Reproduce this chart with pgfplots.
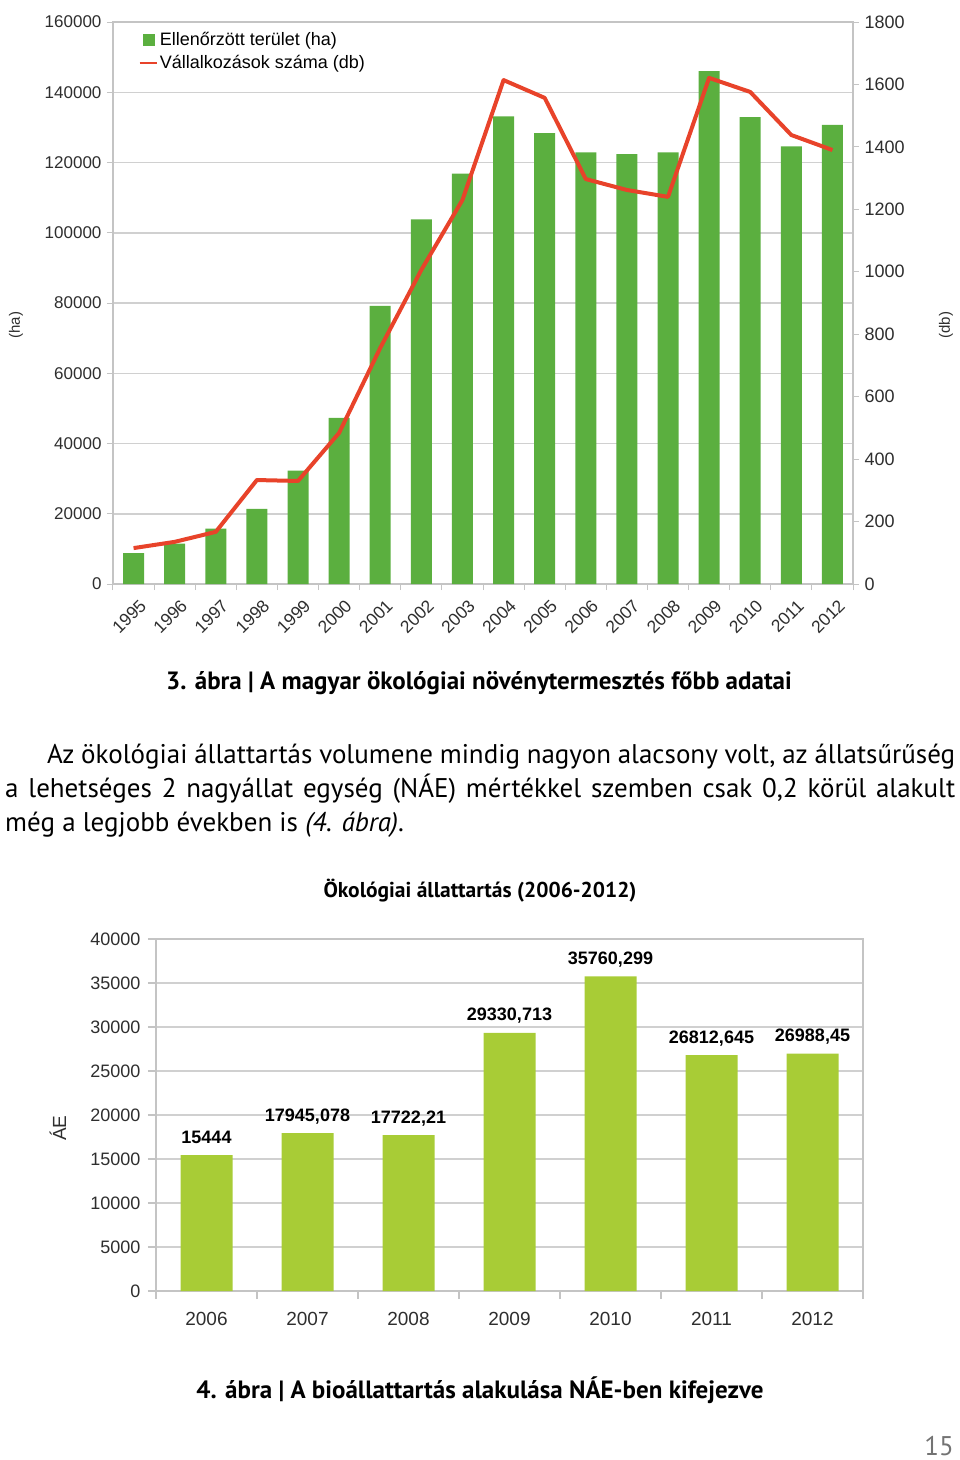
\documentclass[border=0pt]{standalone}
\usepackage{fontspec}
\setmainfont{Liberation Sans}
\newfontfamily\pts{PT Sans}
\usepackage{pgfplots}
\usepackage{pgfplotstable}
\pgfplotsset{compat=1.18}

\definecolor{topgreen}{HTML}{5BAF3F}
\definecolor{linered}{HTML}{E8432A}
\definecolor{botgreen}{HTML}{A8CC36}
\definecolor{gridgray}{HTML}{D0D0D0}
\definecolor{axgray}{HTML}{C4C4C4}
\definecolor{ticktxt}{HTML}{2E2E2E}

\pgfplotstableread{
x y
0 8800
1 11500
2 15800
3 21400
4 32300
5 47300
6 79200
7 103800
8 116800
9 133100
10 128400
11 122900
12 122400
13 122900
14 146000
15 132900
16 124600
17 130700
}\areadata

\pgfplotstableread{
x y
0 115
1 135
2 167
3 333
4 330
5 484
6 756
7 1006
8 1230
9 1614
10 1557
11 1297
12 1262
13 1240
14 1621
15 1576
16 1438
17 1390
}\firmdata

\pgfplotstableread{
x y label
0 15444 15444
1 17945.078 17945,078
2 17722.21 17722,21
3 29330.713 29330,713
4 35760.299 35760,299
5 26812.645 26812,645
6 26988.45 26988,45
}\animaldata

\begin{document}
\begin{tikzpicture}
\path[use as bounding box] (0pt,0pt) rectangle (960pt,-1460pt);

% ---------------- top chart: bars (left axis) ----------------
\begin{axis}[
  at={(113pt,-584pt)}, anchor=south west,
  scale only axis, width=740pt, height=562pt,
  xmin=-0.5, xmax=17.5, ymin=0, ymax=160000,
  ybar, bar width=21pt,
  xtick={0,...,17},
  xticklabels={1995,1996,1997,1998,1999,2000,2001,2002,2003,2004,2005,2006,2007,2008,2009,2010,2011,2012},
  minor xtick={-0.5,0.5,...,17.5},
  major x tick style={draw=none},
  ytick={0,20000,...,160000},
  scaled y ticks=false,
  yticklabel style={/pgf/number format/fixed, /pgf/number format/1000 sep={}, /pgf/number format/assume math mode=true,
    font=\fontsize{17}{20}\selectfont, text=ticktxt, xshift=-2pt},
  tick align=outside, tick pos=left,
  major tick length=6pt, minor tick length=6pt,
  tick style={axgray, line width=1pt},
  ymajorgrids, grid style={gridgray, line width=1.5pt},
  axis line style={axgray, line width=1.2pt},
  xticklabel style={font=\fontsize{17.5}{20}\selectfont, text=ticktxt, rotate=45, anchor=north east, xshift=1pt, yshift=-6pt},
  legend style={draw=none, fill=none, at={(0.034,0.985)}, anchor=north west,
    font=\fontsize{18}{21}\selectfont, row sep=4pt, inner sep=0pt},
  legend cell align=left,
]
\addplot[fill=topgreen, draw=none,
  legend image code/.code={\fill[topgreen] (1pt,-6pt) rectangle (13pt,6pt);}]
  table[x=x, y=y] {\areadata};
\addlegendentry{Ellenőrzött terület (ha)}
\addlegendimage{legend image code/.code={\draw[linered, line width=2.5pt] (-2pt,0pt) -- (15pt,0pt);}}
\addlegendentry{Vállalkozások száma (db)}
\end{axis}

% ---------------- top chart: line (right axis) ----------------
\begin{axis}[
  at={(113pt,-584pt)}, anchor=south west,
  scale only axis, width=740pt, height=562pt,
  xmin=-0.5, xmax=17.5, ymin=0, ymax=1800,
  hide x axis,
  axis y line*=right,
  ytick={0,200,...,1800},
  yticklabel style={/pgf/number format/fixed, /pgf/number format/1000 sep={}, /pgf/number format/assume math mode=true,
    font=\fontsize{18}{21}\selectfont, text=ticktxt, xshift=2pt},
  tick align=outside, major tick length=6pt,
  tick style={axgray, line width=1pt},
  axis line style={axgray, line width=1.2pt},
]
\addplot[linered, line width=4pt, line join=round, mark=none] table[x=x, y=y] {\firmdata};
\end{axis}

\node[rotate=90, font=\fontsize{15}{18}\selectfont, text=ticktxt] at (16pt,-325pt) {(ha)};
\node[rotate=90, font=\fontsize{15}{18}\selectfont, text=ticktxt] at (946pt,-325pt) {(db)};

% ---------------- texts ----------------
\node[anchor=base, inner sep=0pt, font=\pts\bfseries\fontsize{25}{30}\selectfont] at (479pt,-689pt)
  {3. ábra | A magyar ökológiai növénytermesztés főbb adatai};

\node[anchor=base west, inner sep=0pt, font=\pts\fontsize{27}{32}\selectfont] at (47pt,-763pt)
  {\makebox[908pt][s]{Az ökológiai állattartás volumene mindig nagyon alacsony volt, az állatsűrűség}};
\node[anchor=base west, inner sep=0pt, font=\pts\fontsize{27}{32}\selectfont] at (5pt,-797pt)
  {\makebox[950pt][s]{a lehetséges 2 nagyállat egység (NÁE) mértékkel szemben csak 0,2 körül alakult}};
\node[anchor=base west, inner sep=0pt, font=\pts\fontsize{27}{32}\selectfont] at (5pt,-831pt)
  {még a legjobb években is \textit{(4. ábra)}.};

\node[anchor=base, inner sep=0pt, font=\pts\bfseries\fontsize{21.5}{26}\selectfont] at (480pt,-897pt)
  {Ökológiai állattartás (2006-2012)};

% ---------------- bottom chart ----------------
\begin{axis}[
  at={(156pt,-1291pt)}, anchor=south west,
  scale only axis, width=707pt, height=352pt,
  xmin=-0.5, xmax=6.5, ymin=0, ymax=40000,
  ybar, bar width=52pt,
  xtick={0,...,6},
  xticklabels={2006,2007,2008,2009,2010,2011,2012},
  minor xtick={-0.5,0.5,...,6.5},
  major x tick style={draw=none},
  ytick={0,5000,...,40000},
  scaled y ticks=false,
  yticklabel style={/pgf/number format/fixed, /pgf/number format/1000 sep={}, /pgf/number format/assume math mode=true,
    font=\fontsize{18}{21}\selectfont, text=ticktxt, xshift=-4pt},
  tick align=outside, tick pos=left,
  major tick length=8pt, minor tick length=8pt,
  tick style={axgray, line width=1.2pt},
  ymajorgrids, grid style={gridgray, line width=2pt},
  axis line style={axgray, line width=1.5pt},
  xticklabel style={font=\fontsize{19}{22}\selectfont, text=ticktxt, yshift=-10pt},
  nodes near coords, point meta=explicit symbolic,
  nodes near coords style={anchor=base, yshift=12pt, inner sep=0pt, font=\bfseries\fontsize{18}{21}\selectfont, text=black},
]
\addplot[fill=botgreen, draw=none] table[x=x, y=y, meta=label] {\animaldata};
\end{axis}

\node[rotate=90, font=\fontsize{19}{22}\selectfont, text=ticktxt] at (58pt,-1128pt) {ÁE};

\node[anchor=base, inner sep=0pt, font=\pts\bfseries\fontsize{25}{30}\selectfont] at (480pt,-1398pt)
  {4. ábra | A bioállattartás alakulása NÁE-ben kifejezve};

\node[anchor=base east, inner sep=0pt, font=\pts\fontsize{27}{32}\selectfont, text=black!55] at (954pt,-1455pt) {15};

\end{tikzpicture}
\end{document}
